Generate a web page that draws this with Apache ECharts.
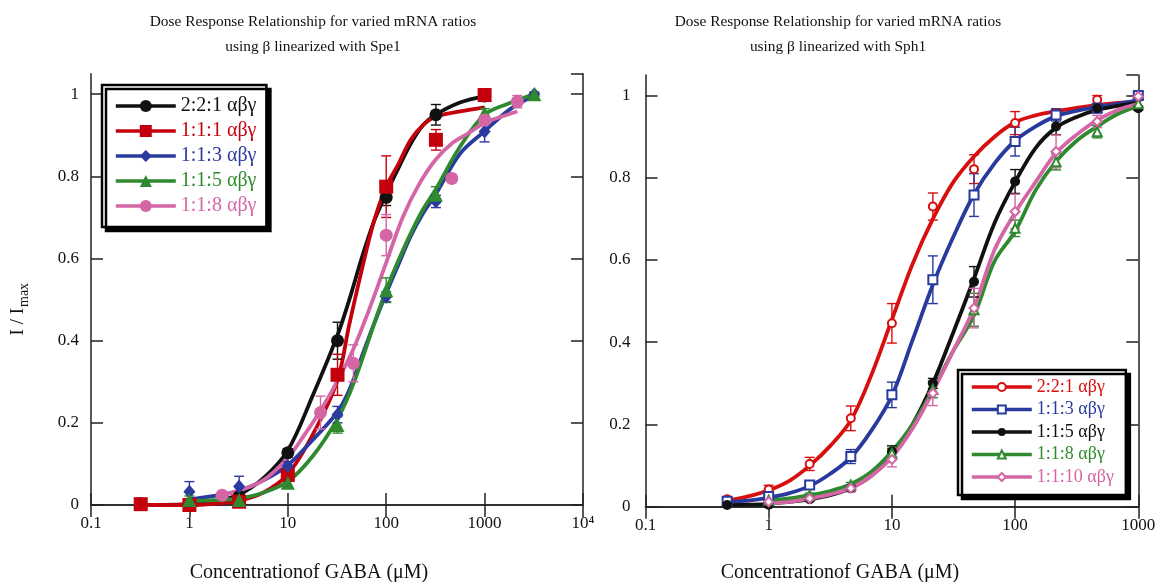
<!DOCTYPE html>
<html><head><meta charset="utf-8">
<script src="https://cdn.jsdelivr.net/npm/echarts@6/dist/echarts.min.js"></script>
<style>html,body{margin:0;padding:0;background:#fff}#c{width:1163px;height:582px}</style>
</head><body><div id="c"></div>
<script>
// ---------------- LEFT PANEL (Spe1) ----------------
const leftNames = ['2:2:1 αβγ', '1:1:1 αβγ', '1:1:3 αβγ', '1:1:5 αβγ', '1:1:8 αβγ'];
const leftConc = [0.32, 1, 3.2, 10, 32, 100, 320, 1000, 3200];
const L_221 = [0.003, 0.003, 0.02, 0.127, 0.40, 0.749, 0.95, 0.996, null];
const L_221_err = [0.005, 0.003, 0.01, 0.01, 0.045, 0.02, 0.025, 0.01, null];
const L_111 = [0.002, 0.0, 0.008, 0.073, 0.317, 0.775, 0.889, 0.998, null];
const L_111_err = [0.005, 0.003, 0.01, 0.015, 0.05, 0.075, 0.025, 0.015, null];
const L_113 = [null, 0.032, 0.045, 0.095, 0.22, 0.507, 0.739, 0.909, 1.0];
const L_113_err = [null, 0.025, 0.025, 0.01, 0.02, 0.012, 0.015, 0.025, 0.005];
const L_115 = [null, 0.012, 0.012, 0.054, 0.195, 0.523, 0.755, 0.955, 1.0];
const L_115_err = [null, 0.01, 0.01, 0.01, 0.02, 0.03, 0.02, 0.01, 0.005];
const pinkConc = [2.15, 21.5, 46.4, 100, 464, 1000, 2150];
const L_118 = [0.024, 0.225, 0.345, 0.657, 0.795, 0.937, 0.982];
const L_118_err = [0.005, 0.04, 0.045, 0.05, 0.01, 0.01, 0.015];

// fitted curves
const leftFitX = [0.32, 0.56, 1, 1.78, 3.16, 5.62, 10, 17.8, 31.6, 42.2, 56.2, 75, 100, 133, 178, 237, 316, 562, 1000, 1778, 3162];
const LF_221 = [0.0, 0.0, 0.002, 0.008, 0.025, 0.065, 0.133, 0.265, 0.41, 0.50, 0.60, 0.69, 0.758, 0.82, 0.88, 0.925, 0.95, 0.98, 0.995, null, null];
const LF_111 = [0.0, 0.0, 0.0, 0.003, 0.01, 0.03, 0.075, 0.17, 0.30, 0.44, 0.57, 0.69, 0.775, 0.83, 0.89, 0.925, 0.945, 0.958, 0.968, null, null];
const LF_113 = [null, null, 0.014, 0.022, 0.034, 0.06, 0.097, 0.158, 0.225, 0.28, 0.36, 0.44, 0.515, 0.585, 0.655, 0.71, 0.755, 0.855, 0.91, 0.962, 0.997];
const LF_115 = [null, null, 0.01, 0.012, 0.016, 0.03, 0.057, 0.118, 0.207, 0.27, 0.35, 0.44, 0.523, 0.595, 0.662, 0.72, 0.767, 0.872, 0.95, 0.978, 1.0];
const pinkFitX = [2.15, 3.16, 5.62, 10, 14.7, 21.5, 31.6, 46.4, 68.1, 100, 147, 215, 316, 464, 681, 1000, 1468, 2150];
const LF_118 = [0.024, 0.035, 0.06, 0.115, 0.17, 0.23, 0.30, 0.38, 0.48, 0.59, 0.70, 0.78, 0.84, 0.88, 0.905, 0.93, 0.945, 0.958];

// ---------------- RIGHT PANEL (Sph1) ----------------
const rightNames = ['2:2:1 αβγ', '1:1:3 αβγ', '1:1:5 αβγ', '1:1:8 αβγ', '1:1:10 αβγ'];
const rightConc = [0.46, 1, 2.15, 4.64, 10, 21.5, 46.4, 100, 215, 464, 1000];
const R_221 = [0.018, 0.042, 0.104, 0.215, 0.446, 0.73, 0.821, 0.933, 0.957, 0.99, 0.995];
const R_221_err = [0.005, 0.01, 0.016, 0.03, 0.048, 0.033, 0.035, 0.028, 0.01, 0.01, 0.005];
const R_113 = [0.013, 0.025, 0.053, 0.122, 0.272, 0.552, 0.758, 0.888, 0.953, 0.969, 1.0];
const R_113_err = [0.004, 0.008, 0.008, 0.017, 0.031, 0.058, 0.052, 0.035, 0.015, 0.01, 0.01];
const R_115 = [0.004, 0.005, 0.018, 0.045, 0.134, 0.30, 0.547, 0.791, 0.925, 0.969, 0.969];
const R_115_err = [0.005, 0.005, 0.005, 0.008, 0.014, 0.012, 0.037, 0.029, 0.02, 0.01, 0.005];
const R_118 = [null, 0.016, 0.028, 0.053, 0.13, 0.285, 0.479, 0.677, 0.839, 0.912, 0.98];
const R_118_err = [null, 0.004, 0.005, 0.006, 0.012, 0.02, 0.04, 0.02, 0.02, 0.015, 0.01];
const R_1110 = [null, 0.012, 0.02, 0.045, 0.115, 0.276, 0.483, 0.718, 0.864, 0.937, 0.998];
const R_1110_err = [null, 0.004, 0.005, 0.008, 0.018, 0.03, 0.048, 0.042, 0.04, 0.015, 0.008];

const rightFitX = [0.46, 0.68, 1, 1.47, 2.15, 3.16, 4.64, 6.81, 10, 14.7, 21.5, 31.6, 46.4, 68.1, 100, 147, 215, 316, 464, 681, 1000];
const RF_221 = [0.015, 0.025, 0.04, 0.063, 0.10, 0.148, 0.21, 0.32, 0.455, 0.59, 0.70, 0.79, 0.852, 0.90, 0.935, 0.952, 0.962, 0.97, 0.977, 0.982, 0.985];
const RF_113 = [0.012, 0.015, 0.022, 0.033, 0.05, 0.08, 0.12, 0.185, 0.27, 0.405, 0.54, 0.657, 0.76, 0.835, 0.89, 0.925, 0.95, 0.963, 0.972, 0.98, 0.988];
const RF_115 = [0.004, 0.005, 0.007, 0.012, 0.018, 0.028, 0.045, 0.075, 0.125, 0.20, 0.30, 0.425, 0.555, 0.69, 0.79, 0.873, 0.922, 0.948, 0.965, 0.975, 0.983];
const RF_118 = [null, null, 0.015, 0.02, 0.028, 0.038, 0.055, 0.085, 0.135, 0.20, 0.285, 0.38, 0.465, 0.597, 0.67, 0.77, 0.84, 0.89, 0.925, 0.955, 0.975];
const RF_1110 = [null, null, 0.008, 0.012, 0.02, 0.03, 0.045, 0.075, 0.12, 0.19, 0.28, 0.38, 0.483, 0.625, 0.715, 0.79, 0.86, 0.905, 0.94, 0.965, 0.98];

// ---------------- texts / tick labels ----------------
const titleLeft = ['Dose Response Relationship for varied mRNA ratios', 'using β linearized with Spe1'];
const titleRight = ['Dose Response Relationship for varied mRNA ratios', 'using β linearized with Sph1'];
const xAxisName = 'Concentrationof GABA (μM)';
const yAxisNameMain = 'I / I';
const yAxisNameSub = 'max';
const xTickLabelsLeft = ['0.1', '1', '10', '100', '1000', '10⁴'];
const xTickLabelsRight = ['0.1', '1', '10', '100', '1000'];
const yTickLabels = ['0', '0.2', '0.4', '0.6', '0.8', '1'];

// ---------------- styling ----------------
const FONT = '"Liberation Serif", "Times New Roman", serif';
const leftColors = ['#111111', '#c4000d', '#2a3a9e', '#2f8a2f', '#d466a6'];
const rightColors = ['#d80f0f', '#283a9e', '#111111', '#2f8a2f', '#d466a6'];
const leftSymbols = ['circle', 'rect', 'diamond', 'triangle', 'circle'];
const leftSymSize = [13, 14, [12, 14], 14, 13];
const rightSymbols = ['emptyCircle', 'emptyRect', 'circle', 'emptyTriangle', 'emptyDiamond'];
const rightSymSize = [8, 9, 10, 9, 9];
const AX = '#222';

function pairs(xs, ys) {
  const out = [];
  xs.forEach((x, i) => { if (ys[i] !== null && ys[i] !== undefined) out.push([x, ys[i]]); });
  return out;
}
function triples(xs, ys, es) {
  const out = [];
  xs.forEach((x, i) => { if (ys[i] !== null && es[i] !== null) out.push([x, ys[i], es[i]]); });
  return out;
}
function errRender(params, api) {
  const x = api.value(0), y = api.value(1), e = api.value(2);
  const top = api.coord([x, Math.min(y + e, 1.05)]);
  const bot = api.coord([x, Math.max(y - e, 0)]);
  const w = 5;
  const style = { stroke: api.visual('color'), lineWidth: 1.4 };
  return { type: 'group', children: [
    { type: 'line', shape: { x1: top[0], y1: top[1], x2: bot[0], y2: bot[1] }, style: style },
    { type: 'line', shape: { x1: top[0] - w, y1: top[1], x2: top[0] + w, y2: top[1] }, style: style },
    { type: 'line', shape: { x1: bot[0] - w, y1: bot[1], x2: bot[0] + w, y2: bot[1] }, style: style }
  ] };
}

const series = [];
function addPlot(k, prefix, names, colors, symbols, sizes, fitXs, fits, concs, vals, errs) {
  names.forEach((n, i) => {
    series.push({
      type: 'line', name: prefix + n, xAxisIndex: 2 * k, yAxisIndex: 2 * k,
      data: pairs(fitXs[i], fits[i]), smooth: 0.35, showSymbol: false,
      symbol: symbols[i], symbolSize: sizes[i],
      lineStyle: { width: 3.8, color: colors[i] }, itemStyle: { color: colors[i] },
      z: 2, silent: true, animation: false
    });
  });
  names.forEach((n, i) => {
    series.push({
      type: 'custom', name: 'err' + prefix + i, xAxisIndex: 2 * k, yAxisIndex: 2 * k,
      renderItem: errRender, data: triples(concs[i], vals[i], errs[i]),
      encode: { x: 0, y: 1 }, itemStyle: { color: colors[i] }, z: 3, silent: true, animation: false
    });
  });
  names.forEach((n, i) => {
    series.push({
      type: 'scatter', name: prefix + n, xAxisIndex: 2 * k, yAxisIndex: 2 * k,
      data: pairs(concs[i], vals[i]), symbol: symbols[i], symbolSize: sizes[i],
      itemStyle: { color: colors[i], opacity: 1 }, z: 4, silent: true, animation: false
    });
  });
}

addPlot(0, 'L ', leftNames, leftColors, leftSymbols, leftSymSize,
  [leftFitX, leftFitX, leftFitX, leftFitX, pinkFitX],
  [LF_221, LF_111, LF_113, LF_115, LF_118],
  [leftConc, leftConc, leftConc, leftConc, pinkConc],
  [L_221, L_111, L_113, L_115, L_118],
  [L_221_err, L_111_err, L_113_err, L_115_err, L_118_err]);
addPlot(1, 'R ', rightNames, rightColors, rightSymbols, rightSymSize,
  [rightFitX, rightFitX, rightFitX, rightFitX, rightFitX],
  [RF_221, RF_113, RF_115, RF_118, RF_1110],
  [rightConc, rightConc, rightConc, rightConc, rightConc],
  [R_221, R_113, R_115, R_118, R_1110],
  [R_221_err, R_113_err, R_115_err, R_118_err, R_1110_err]);

const axLine = { show: true, lineStyle: { color: AX, width: 1.5 } };
const axTick = { show: true, inside: true, length: 12, lineStyle: { color: AX, width: 1.5 } };
function xAx(gi, pos, labels, max) {
  return {
    type: 'log', logBase: 10, gridIndex: gi, position: pos, min: 0.1, max: max,
    axisLine: axLine, axisTick: axTick, splitLine: { show: false }, minorTick: { show: false },
    axisLabel: labels ? {
      show: true, margin: 10, color: '#111', fontFamily: FONT, fontSize: 17,
      formatter: v => labels[Math.round(Math.log10(v)) + 1] || ''
    } : { show: false }
  };
}
function yAx(gi, pos, withLabels, margin) {
  return {
    type: 'value', gridIndex: gi, position: pos, min: 0, max: 1.05, interval: 0.2,
    axisLine: axLine, axisTick: axTick, splitLine: { show: false },
    axisLabel: withLabels ? {
      show: true, margin: margin, color: '#111', fontFamily: FONT, fontSize: 17, showMaxLabel: false,
      formatter: v => { const i = Math.round(v / 0.2); return Math.abs(v - i * 0.2) < 1e-6 ? (yTickLabels[i] || '') : ''; }
    } : { show: false }
  };
}

const legendBase = {
  orient: 'vertical', itemWidth: 60, selectedMode: false,
  borderColor: '#000', borderWidth: 2.5, backgroundColor: '#fff',
  shadowColor: '#000', shadowBlur: 0, shadowOffsetX: 4, shadowOffsetY: 4,
  lineStyle: { width: 3.6 },
  formatter: name => name.slice(2)
};

const titleText = (lines, cx) => lines.map((t, i) => ({
  type: 'text', x: cx, y: 22 + i * 25,
  style: { text: t, fill: '#111', font: '15.4px ' + FONT, textAlign: 'center', textVerticalAlign: 'middle' }
}));

const option = {
  backgroundColor: '#fff',
  animation: false,
  grid: [
    { left: 91, top: 73.7, width: 492, height: 431.3 },
    { left: 645.5, top: 75, width: 492.8, height: 431.7 }
  ],
  xAxis: [
    xAx(0, 'bottom', xTickLabelsLeft, 10000), xAx(0, 'top', null, 10000),
    xAx(1, 'bottom', xTickLabelsRight, 1000), xAx(1, 'top', null, 1000)
  ],
  yAxis: [
    yAx(0, 'left', true, 12), yAx(0, 'right', false),
    yAx(1, 'left', true, 15), yAx(1, 'right', false)
  ],
  legend: [
    Object.assign({}, legendBase, {
      left: 102, top: 85, itemHeight: 15, itemGap: 5, padding: [11, 10, 11, 12],
      textStyle: { fontFamily: FONT, fontSize: 20 },
      data: leftNames.map((n, i) => ({ name: 'L ' + n, textStyle: { color: leftColors[i] } }))
    }),
    Object.assign({}, legendBase, {
      left: 958, top: 370, itemHeight: 10, itemGap: 4.5, padding: [8, 12, 9, 12],
      textStyle: { fontFamily: FONT, fontSize: 18 },
      data: rightNames.map((n, i) => ({ name: 'R ' + n, textStyle: { color: rightColors[i] } }))
    })
  ],
  graphic: [].concat(
    titleText(titleLeft, 313),
    titleText(titleRight, 838),
    [
      { type: 'text', x: 309, y: 573, style: { text: xAxisName, fill: '#111', font: '20px ' + FONT, textAlign: 'center', textVerticalAlign: 'middle' } },
      { type: 'text', x: 840, y: 573, style: { text: xAxisName, fill: '#111', font: '20px ' + FONT, textAlign: 'center', textVerticalAlign: 'middle' } },
      { type: 'group', x: 18, y: 308, rotation: Math.PI / 2, children: [
        { type: 'text', x: 0, y: 0, style: { text: yAxisNameMain, fill: '#111', font: '19px ' + FONT, textAlign: 'right', textVerticalAlign: 'middle' } },
        { type: 'text', x: 1, y: 6, style: { text: yAxisNameSub, fill: '#111', font: '14px ' + FONT, textAlign: 'left', textVerticalAlign: 'middle' } }
      ] }
    ]
  ),
  series: series
};

const chart = echarts.init(document.getElementById('c'), null, { renderer: 'canvas' });
chart.setOption(option);
</script></body></html>
